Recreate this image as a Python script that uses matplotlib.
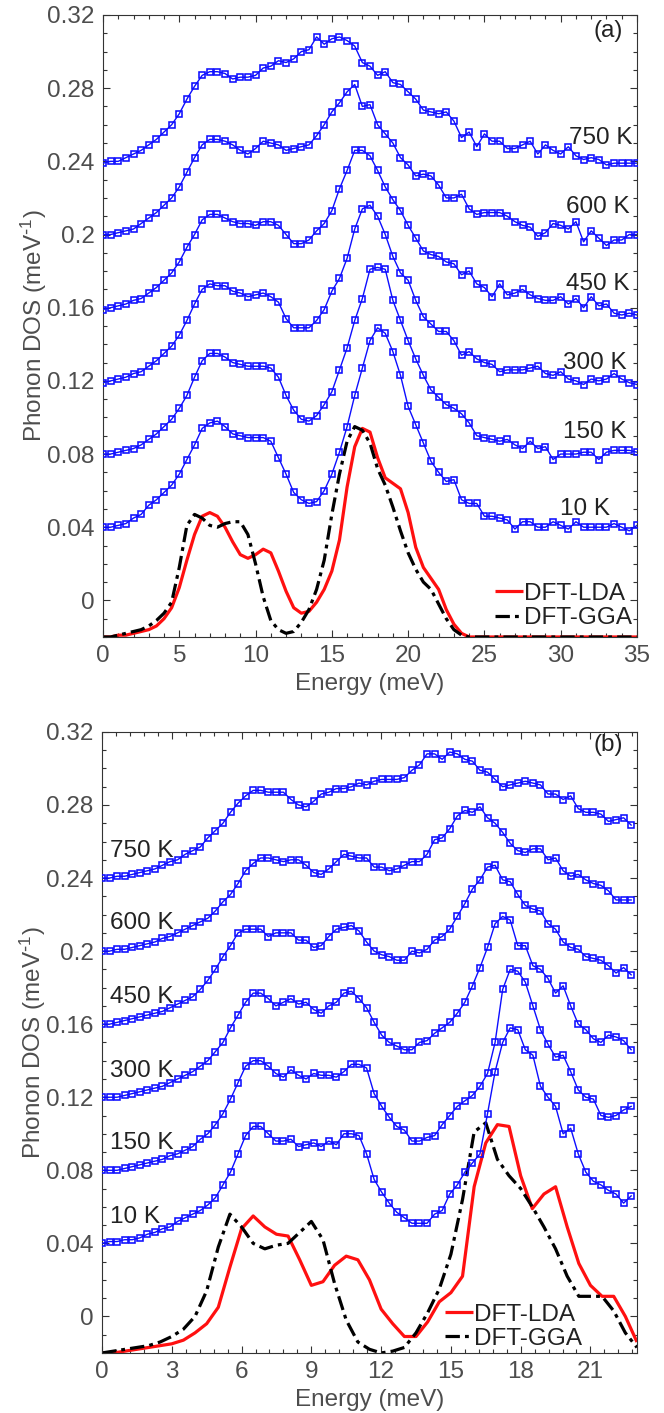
import numpy as np
import matplotlib
matplotlib.use("Agg")
import matplotlib.pyplot as plt
from matplotlib.ticker import MultipleLocator, FuncFormatter

plt.rcParams['font.family'] = ['Liberation Sans', 'DejaVu Sans']
plt.rcParams['mathtext.default'] = 'regular'

# ---------------- data: panel (a) ----------------
energy_a = np.arange(0, 35.01, 0.5)
temps = ["10 K", "150 K", "300 K", "450 K", "600 K", "750 K"]

a_750 = [0.239,0.240,0.240,0.242,0.244,0.246,0.249,0.252,0.256,0.260,
         0.266,0.274,0.281,0.287,0.289,0.289,0.288,0.285,0.286,0.286,
         0.287,0.291,0.292,0.295,0.294,0.296,0.300,0.301,0.308,0.304,
         0.307,0.308,0.306,0.303,0.294,0.292,0.287,0.289,0.283,0.282,
         0.278,0.274,0.268,0.267,0.266,0.267,0.262,0.253,0.256,0.248,
         0.255,0.251,0.251,0.247,0.247,0.249,0.251,0.244,0.249,0.246,
         0.244,0.248,0.243,0.241,0.242,0.241,0.238,0.239,0.239,0.239,0.239]
a_600 = [0.200,0.200,0.201,0.202,0.203,0.206,0.209,0.212,0.216,0.220,
         0.226,0.234,0.242,0.249,0.252,0.252,0.251,0.249,0.246,0.244,
         0.247,0.251,0.250,0.249,0.246,0.247,0.248,0.249,0.254,0.260,
         0.267,0.272,0.278,0.282,0.270,0.271,0.260,0.255,0.250,0.242,
         0.238,0.232,0.233,0.232,0.227,0.220,0.220,0.222,0.214,0.211,
         0.212,0.212,0.212,0.210,0.207,0.205,0.204,0.199,0.201,0.206,
         0.205,0.203,0.207,0.196,0.202,0.198,0.194,0.197,0.197,0.200,0.200]
a_450 = [0.159,0.160,0.161,0.162,0.164,0.165,0.168,0.171,0.175,0.179,
         0.185,0.193,0.200,0.208,0.211,0.211,0.209,0.207,0.206,0.206,
         0.205,0.207,0.207,0.205,0.200,0.195,0.195,0.197,0.202,0.206,
         0.213,0.225,0.235,0.246,0.246,0.243,0.235,0.226,0.219,0.213,
         0.205,0.198,0.191,0.189,0.188,0.185,0.184,0.178,0.180,0.173,
         0.171,0.166,0.173,0.167,0.168,0.170,0.167,0.165,0.164,0.164,
         0.166,0.162,0.165,0.160,0.166,0.161,0.162,0.157,0.156,0.157,0.156]
a_300 = [0.119,0.120,0.121,0.122,0.124,0.125,0.128,0.131,0.135,0.139,
         0.145,0.153,0.162,0.170,0.173,0.172,0.172,0.169,0.168,0.166,
         0.167,0.168,0.166,0.163,0.154,0.149,0.149,0.149,0.153,0.159,
         0.169,0.176,0.187,0.203,0.214,0.216,0.210,0.200,0.188,0.179,
         0.175,0.164,0.155,0.151,0.147,0.147,0.142,0.134,0.136,0.132,
         0.130,0.129,0.125,0.126,0.126,0.126,0.127,0.128,0.124,0.123,
         0.125,0.121,0.120,0.118,0.121,0.120,0.121,0.124,0.121,0.119,0.118]
a_150 = [0.080,0.080,0.081,0.082,0.083,0.085,0.088,0.091,0.095,0.099,
         0.105,0.112,0.122,0.131,0.135,0.135,0.133,0.130,0.129,0.128,
         0.128,0.128,0.127,0.122,0.112,0.104,0.099,0.098,0.101,0.107,
         0.114,0.126,0.138,0.153,0.165,0.181,0.182,0.181,0.164,0.153,
         0.142,0.132,0.123,0.115,0.111,0.107,0.105,0.102,0.097,0.090,
         0.089,0.088,0.087,0.088,0.085,0.083,0.087,0.083,0.084,0.077,
         0.080,0.080,0.080,0.081,0.081,0.077,0.081,0.082,0.082,0.082,0.081]
a_10 = [0.040,0.040,0.041,0.042,0.045,0.047,0.052,0.055,0.059,0.063,
        0.069,0.077,0.085,0.094,0.097,0.098,0.095,0.091,0.090,0.089,
        0.089,0.089,0.087,0.078,0.069,0.059,0.055,0.053,0.054,0.060,
        0.069,0.081,0.095,0.112,0.127,0.142,0.149,0.146,0.136,0.123,
        0.106,0.096,0.086,0.076,0.070,0.065,0.066,0.055,0.053,0.053,
        0.046,0.046,0.045,0.044,0.039,0.043,0.043,0.040,0.040,0.043,
        0.041,0.039,0.043,0.040,0.040,0.040,0.040,0.042,0.040,0.038,0.041]

dft_energy_a = np.arange(0, 35.01, 0.5)
a_lda = [-0.020,-0.020,-0.019,-0.019,-0.018,-0.017,-0.016,-0.014,-0.010,-0.004,
         0.007,0.022,0.036,0.046,0.048,0.046,0.040,0.032,0.025,0.023,
         0.025,0.028,0.026,0.016,0.005,-0.004,-0.007,-0.006,-0.001,0.006,
         0.016,0.033,0.062,0.084,0.094,0.092,0.078,0.067,0.064,0.061,
         0.048,0.029,0.018,0.012,0.006,-0.005,-0.013,-0.018,-0.020,-0.020,
         -0.020,-0.020,-0.020,-0.020,-0.020,-0.020,-0.020,-0.020,-0.020,-0.020,-0.020,
         -0.020,-0.020,-0.020,-0.020,-0.020,-0.020,-0.020,-0.020,-0.020,-0.020]
a_gga = [-0.020,-0.020,-0.019,-0.018,-0.017,-0.016,-0.014,-0.011,-0.007,-0.001,
         0.018,0.041,0.047,0.045,0.041,0.040,0.042,0.043,0.043,0.036,
         0.020,0.002,-0.011,-0.016,-0.018,-0.017,-0.012,-0.005,0.006,0.022,
         0.047,0.069,0.087,0.095,0.093,0.086,0.072,0.063,0.051,0.038,
         0.026,0.017,0.010,0.006,-0.002,-0.010,-0.016,-0.019,-0.020,-0.020,
         -0.020,-0.020,-0.020,-0.020,-0.020,-0.020,-0.020,-0.020,-0.020,-0.020,-0.020,
         -0.020,-0.020,-0.020,-0.020,-0.020,-0.020,-0.020,-0.020,-0.020,-0.020]

# ---------------- data: panel (b) ----------------
energy_b = np.arange(71) * 0.325

b_750 = [0.240,0.240,0.241,0.241,0.242,0.243,0.244,0.245,0.247,0.249,
         0.250,0.253,0.255,0.257,0.262,0.266,0.270,0.276,0.281,0.285,
         0.288,0.288,0.287,0.287,0.287,0.283,0.280,0.279,0.282,0.286,
         0.287,0.289,0.289,0.290,0.292,0.291,0.293,0.294,0.294,0.294,
         0.295,0.299,0.302,0.308,0.308,0.305,0.309,0.308,0.305,0.304,
         0.299,0.298,0.294,0.290,0.291,0.292,0.293,0.292,0.291,0.286,
         0.286,0.283,0.285,0.278,0.276,0.276,0.275,0.271,0.272,0.273,0.269]
b_600 = [0.200,0.200,0.201,0.201,0.202,0.203,0.204,0.205,0.207,0.208,
         0.210,0.212,0.214,0.216,0.218,0.222,0.227,0.231,0.237,0.244,
         0.248,0.251,0.251,0.250,0.249,0.250,0.250,0.247,0.243,0.242,
         0.245,0.249,0.253,0.252,0.251,0.251,0.246,0.246,0.244,0.245,
         0.247,0.249,0.249,0.253,0.261,0.262,0.267,0.274,0.277,0.276,
         0.279,0.273,0.270,0.265,0.259,0.255,0.254,0.256,0.256,0.250,
         0.251,0.244,0.241,0.242,0.239,0.237,0.236,0.233,0.228,0.228,0.228]
b_450 = [0.160,0.160,0.161,0.162,0.163,0.164,0.165,0.166,0.167,0.169,
         0.171,0.173,0.175,0.179,0.184,0.190,0.197,0.203,0.210,0.212,
         0.212,0.212,0.208,0.210,0.210,0.210,0.206,0.206,0.202,0.203,
         0.208,0.212,0.213,0.214,0.211,0.205,0.200,0.198,0.197,0.195,
         0.195,0.200,0.199,0.201,0.206,0.208,0.212,0.219,0.226,0.234,
         0.239,0.246,0.247,0.239,0.238,0.231,0.225,0.223,0.222,0.215,
         0.212,0.205,0.202,0.201,0.197,0.196,0.195,0.192,0.188,0.191,0.187]
b_300 = [0.120,0.120,0.120,0.121,0.122,0.123,0.124,0.125,0.126,0.128,
         0.130,0.132,0.134,0.137,0.140,0.145,0.150,0.158,0.165,0.172,
         0.177,0.177,0.174,0.170,0.172,0.174,0.171,0.172,0.168,0.166,
         0.170,0.172,0.177,0.178,0.174,0.169,0.161,0.154,0.150,0.148,
         0.146,0.146,0.150,0.151,0.155,0.158,0.161,0.166,0.172,0.181,
         0.191,0.202,0.215,0.219,0.217,0.203,0.203,0.192,0.190,0.185,
         0.177,0.181,0.170,0.160,0.157,0.152,0.150,0.154,0.153,0.151,0.146]
b_150 = [0.080,0.080,0.080,0.081,0.082,0.083,0.084,0.085,0.086,0.088,
         0.089,0.091,0.093,0.097,0.100,0.105,0.111,0.119,0.128,0.137,
         0.140,0.140,0.137,0.133,0.131,0.135,0.132,0.130,0.133,0.132,
         0.132,0.131,0.134,0.138,0.138,0.136,0.122,0.115,0.109,0.104,
         0.102,0.096,0.096,0.098,0.099,0.105,0.110,0.115,0.118,0.121,
         0.126,0.133,0.150,0.179,0.190,0.189,0.183,0.170,0.157,0.149,
         0.142,0.143,0.134,0.124,0.120,0.119,0.110,0.109,0.110,0.113,0.115]
b_10 = [0.040,0.041,0.041,0.042,0.042,0.043,0.045,0.046,0.048,0.049,
        0.052,0.054,0.056,0.058,0.061,0.065,0.072,0.079,0.089,0.099,
        0.104,0.104,0.100,0.096,0.096,0.097,0.093,0.094,0.095,0.093,
        0.096,0.094,0.100,0.100,0.099,0.089,0.075,0.068,0.062,0.057,
        0.054,0.051,0.051,0.051,0.056,0.058,0.067,0.072,0.079,0.084,
        0.089,0.111,0.134,0.150,0.158,0.157,0.146,0.143,0.126,0.120,
        0.115,0.100,0.103,0.089,0.079,0.074,0.072,0.069,0.067,0.062,0.066]

dft_energy_b = np.arange(0, 23.01, 0.5)
b_lda = [-0.020,-0.020,-0.019,-0.018,-0.017,-0.016,-0.015,-0.013,-0.009,-0.004,
         0.005,0.027,0.048,0.055,0.049,0.045,0.044,0.031,0.017,0.019,
         0.028,0.033,0.031,0.020,0.004,-0.004,-0.011,-0.011,-0.003,0.008,
         0.013,0.022,0.071,0.095,0.105,0.104,0.077,0.059,0.067,0.071,
         0.049,0.029,0.017,0.011,0.011,0.000,-0.014]
b_gga = [-0.020,-0.019,-0.018,-0.017,-0.016,-0.014,-0.011,-0.007,0.000,0.014,
         0.038,0.056,0.049,0.040,0.037,0.039,0.040,0.046,0.052,0.042,
         0.018,-0.002,-0.014,-0.018,-0.020,-0.019,-0.017,-0.009,0.002,0.015,
         0.034,0.064,0.101,0.106,0.086,0.077,0.070,0.060,0.049,0.037,
         0.022,0.011,0.011,0.011,0.003,-0.009,-0.017]

series_a = [a_10, a_150, a_300, a_450, a_600, a_750]
series_b = [b_10, b_150, b_300, b_450, b_600, b_750]

# ---------------- styling ----------------
FS = 17.5
TXT = '#4d4d4d'
SPINE = '#333333'
BLUE = '#0d0dff'

fig = plt.figure(figsize=(6.64, 14.13), dpi=100)
ax1 = fig.add_axes([0.1551, 0.5492, 0.8042, 0.4402])
ax2 = fig.add_axes([0.1536, 0.0425, 0.8057, 0.4395])

def style(ax, xmax, xmajor, xminor):
    ax.set_xlim(0, xmax)
    ax.set_ylim(-0.02, 0.32)
    ax.xaxis.set_major_locator(MultipleLocator(xmajor))
    ax.xaxis.set_minor_locator(MultipleLocator(xminor))
    ax.yaxis.set_major_locator(MultipleLocator(0.04))
    ax.yaxis.set_minor_locator(MultipleLocator(0.01))
    ax.yaxis.set_major_formatter(FuncFormatter(lambda v, p: ('%g' % round(v, 2))))
    ax.tick_params(which='both', direction='in', top=True, right=True,
                   color=SPINE, labelcolor=TXT, labelsize=FS, width=0.8)
    ax.tick_params(which='major', length=5, pad=6)
    ax.tick_params(which='minor', length=3)
    for s in ax.spines.values():
        s.set_color(SPINE)
        s.set_linewidth(0.8)
    ax.set_xlabel('Energy (meV)', fontsize=FS, color=TXT, labelpad=4)
    ax.set_ylabel('Phonon DOS (meV$^{\\text{-}1}$)', fontsize=FS, color=TXT, labelpad=-1)

def draw(ax, e, series, e_dft, lda, gga):
    l1, = ax.plot(e_dft, lda, color='#ff1010', lw=2.3, solid_capstyle='butt', zorder=2)
    l2, = ax.plot(e_dft, gga, color='black', lw=2.3, dashes=(4.5, 1.6, 1.2, 1.6), zorder=2)
    for s in series:
        ax.plot(e, s, color=BLUE, lw=1.0, marker='s', ms=4.9, mfc='none',
                mec=BLUE, mew=1.15, zorder=3)
    return l1, l2

style(ax1, 35, 5, 1)
l1, l2 = draw(ax1, energy_a, series_a, dft_energy_a, a_lda, a_gga)
style(ax2, 23.0, 3, 0.6)
m1, m2 = draw(ax2, energy_b, series_b, dft_energy_b, b_lda, b_gga)

# temperature labels
lab_pos_a = [(33.2, 0.0497), (34.3, 0.092), (34.3, 0.130), (34.5, 0.173), (34.5, 0.215), (34.7, 0.253)]
for t, (x, y) in zip(temps, lab_pos_a):
    ax1.text(x, y, t, fontsize=FS, color='#222222', ha='right', va='center', zorder=5)
lab_pos_b = [(0.34, 0.0546), (0.34, 0.0951), (0.34, 0.1344), (0.34, 0.1749), (0.34, 0.2153), (0.34, 0.255)]
for t, (x, y) in zip(temps, lab_pos_b):
    ax2.text(x, y, t, fontsize=FS, color='#222222', ha='left', va='center', zorder=5)

ax1.text(33.1, 0.311, '(a)', fontsize=FS, color='#222222', ha='center', va='center')
ax2.text(21.77, 0.3126, '(b)', fontsize=FS, color='#222222', ha='center', va='center')

leg1 = ax1.legend([l1, l2], ['DFT-LDA', 'DFT-GGA'], loc='lower left',
                  bbox_to_anchor=(0.725, 0.005), frameon=False, fontsize=FS,
                  handlelength=1.15, handletextpad=0.05, labelspacing=0.1,
                  borderpad=0.2, borderaxespad=0.0)
for t in leg1.get_texts():
    t.set_color('#222222')
leg2 = ax2.legend([m1, m2], ['DFT-LDA', 'DFT-GGA'], loc='lower left',
                  bbox_to_anchor=(0.632, -0.003), frameon=False, fontsize=FS,
                  handlelength=1.15, handletextpad=0.05, labelspacing=0.08,
                  borderpad=0.2, borderaxespad=0.0)
for t in leg2.get_texts():
    t.set_color('#222222')

fig.savefig('out.png', dpi=100)
